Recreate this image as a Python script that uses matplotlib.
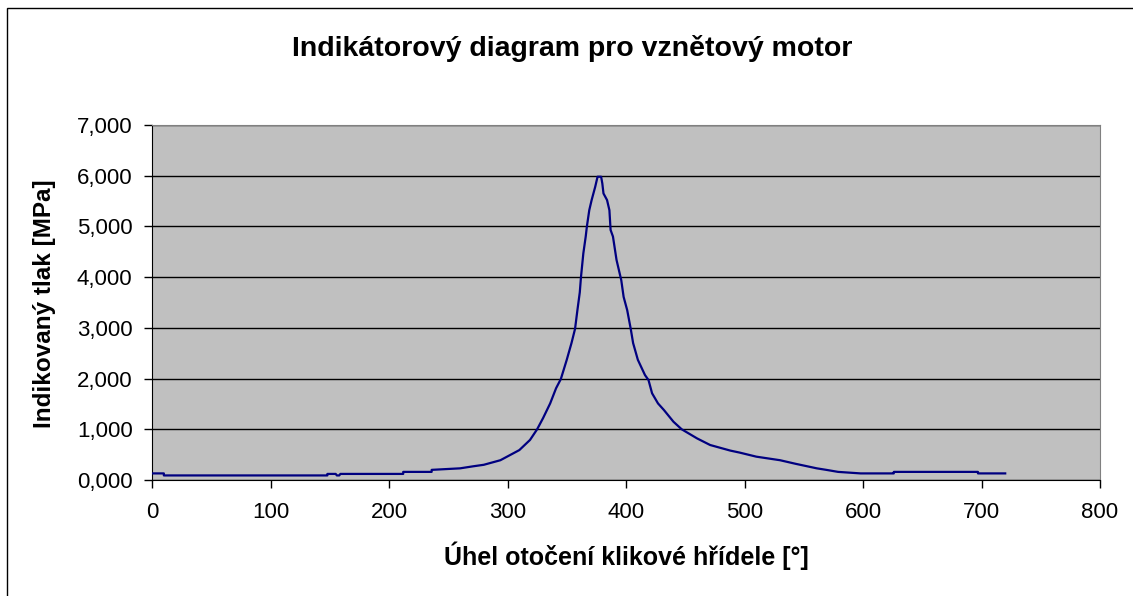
import numpy as np
import matplotlib
matplotlib.use("Agg")
import matplotlib.pyplot as plt
from matplotlib.patches import Rectangle
from matplotlib.ticker import FuncFormatter

# Data (angle in degrees, pressure in MPa)
uhel = [0, 10, 10, 148, 148, 155, 156, 158, 159, 212, 212, 236, 236, 260, 271,
        280, 294, 302, 310, 319, 325, 330, 336, 341, 345, 350, 354, 357, 359,
        361, 362, 364, 366, 367, 369, 371, 374, 376, 379, 380, 381, 384, 386,
        387, 389, 392, 394, 396, 398, 401, 404, 406, 410, 416, 419, 422, 427,
        432, 440, 447, 460, 471, 488, 496, 510, 530, 543, 561, 569, 579, 598,
        626, 626, 697, 697, 720]
tlak = [0.13, 0.13, 0.09, 0.09, 0.12, 0.12, 0.09, 0.09, 0.12, 0.12, 0.16, 0.16,
        0.20, 0.23, 0.27, 0.30, 0.39, 0.49, 0.59, 0.79, 1.00, 1.22, 1.51, 1.81,
        1.99, 2.37, 2.70, 2.98, 3.35, 3.70, 4.00, 4.47, 4.80, 5.00, 5.32, 5.52,
        5.78, 5.98, 5.98, 5.85, 5.65, 5.52, 5.32, 4.93, 4.80, 4.34, 4.14, 3.94,
        3.61, 3.35, 2.98, 2.70, 2.37, 2.07, 1.97, 1.71, 1.51, 1.38, 1.15, 1.00,
        0.82, 0.69, 0.58, 0.54, 0.46, 0.39, 0.32, 0.23, 0.20, 0.16, 0.13, 0.13,
        0.16, 0.16, 0.13, 0.13]

x_ticks = [0, 100, 200, 300, 400, 500, 600, 700, 800]
y_ticks = [0, 1, 2, 3, 4, 5, 6, 7]

TITULEK = "Indikátorový diagram pro vznětový motor"
X_POPIS = "Úhel otočení klikové hřídele [°]"
Y_POPIS = "Indikovaný tlak [MPa]"

W, H = 1133, 596

plt.rcParams['font.family'] = ['Liberation Sans', 'DejaVu Sans']

fig = plt.figure(figsize=(W / 100, H / 100), dpi=100)
fig.patch.set_facecolor("white")

# ramecek kolem celeho grafu (jako v Excelu)
fig.patches.append(Rectangle((7 / W, -0.05), 1.1, 1 - 8 / H + 0.05,
                             transform=fig.transFigure, fill=False,
                             edgecolor="black", linewidth=1.0))

ax = fig.add_axes([152 / W, 1 - 480 / H, (1100 - 152) / W, (480 - 125) / H])
ax.set_facecolor("#C0C0C0")

ax.plot(uhel, tlak, color="#000080", linewidth=1.6, zorder=3)

ax.set_xlim(0, 800)
ax.set_ylim(0, 7)
ax.set_xticks(x_ticks)
ax.set_yticks(y_ticks)
ax.yaxis.set_major_formatter(FuncFormatter(lambda v, p: f"{v:.3f}".replace(".", ",")))

ax.grid(axis="y", color="black", linewidth=1.0)
ax.set_axisbelow(True)

for s in ["top", "right"]:
    ax.spines[s].set_color("#808080")
for s in ["left", "bottom"]:
    ax.spines[s].set_color("black")

ax.tick_params(axis="both", direction="out", length=6, width=1, labelsize=16, colors="black")
ax.tick_params(axis="y", pad=8)
ax.tick_params(axis="x", pad=10)

# popisky os a titulek umistene primo do obrazku
fig.text(0.5 * (152 + 1100) / W, 1 - 556 / H, X_POPIS, ha="center", va="center",
         fontsize=18, fontweight="bold")
fig.text(45 / W, 1 - 304 / H, Y_POPIS, ha="center", va="center", rotation=90,
         fontsize=17.5, fontweight="bold")
fig.text(572 / W, 1 - 48 / H, TITULEK, ha="center", va="center",
         fontsize=20.5, fontweight="bold")

fig.savefig("out.png", dpi=100)
